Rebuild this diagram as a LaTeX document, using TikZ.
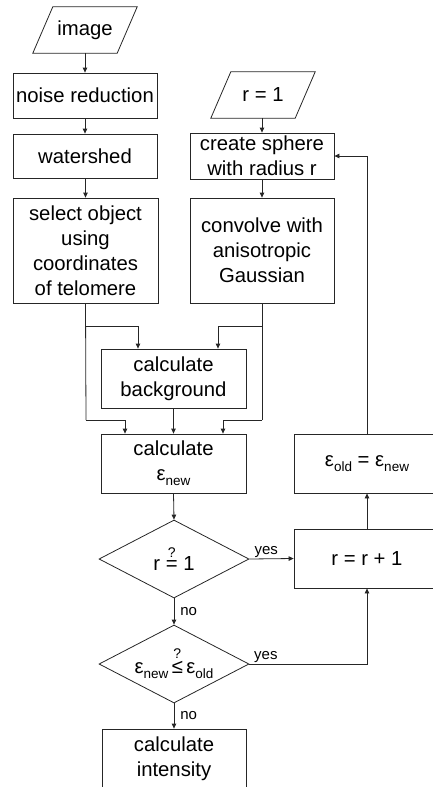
\documentclass[tikz,border=0pt]{standalone}
\usepackage{fontspec}
\setmainfont{Liberation Sans}
\usetikzlibrary{arrows.meta,shapes.geometric}
\newcommand{\epsub}[1]{ε\raisebox{-5pt}{\fontsize{13.5}{14}\selectfont #1}}
\newcommand{\qrel}[1]{\vbox{\offinterlineskip\halign{\hfil##\hfil\cr{\fontsize{14}{14}\selectfont ?}\cr\noalign{\kern2.5pt}#1\cr}}}
\begin{document}
\begin{tikzpicture}[x=1pt,y=-1pt,
  box/.style={draw=black!85, line width=0.8pt, rectangle, inner sep=0pt, align=center, font=\fontsize{20.3}{25}\selectfont},
  plain/.style={rectangle, inner sep=0pt, align=center, font=\fontsize{20.3}{25}\selectfont},
  dia/.style={draw=black!85, line width=0.8pt, diamond, aspect=2, inner sep=0pt, minimum width=150pt, minimum height=78pt, font=\fontsize{20.3}{25}\selectfont},
  arr/.style={-{Triangle[length=5pt,width=4.5pt]}, line width=0.8pt, draw=black!85},
  ln/.style={line width=0.8pt, draw=black!85},
  lbl/.style={font=\fontsize{15}{15}\selectfont, inner sep=1pt}]
\useasboundingbox (0,0) rectangle (433,787);
\clip (0,0) rectangle (433,787);

% left column
\node[plain, minimum width=84pt, minimum height=46pt] (img) at (85,30) {image};
\draw[ln] ([xshift=10pt]img.north west) -- ([xshift=10pt]img.north east) -- ([xshift=-10pt]img.south east) -- ([xshift=-10pt]img.south west) -- cycle;
\node[box, minimum width=144pt, minimum height=45pt] (nr) at (85,95.5) {noise reduction};
\node[box, minimum width=144pt, minimum height=44pt] (ws) at (85,156) {watershed};
\node[box, minimum width=145pt, minimum height=105pt] (sel) at (85.5,250.5) {select object\\using\\coordinates\\of telomere};

% right column
\node[plain, minimum width=84pt, minimum height=46pt] (r1) at (263,95) {r = 1};
\draw[ln] ([xshift=10pt]r1.north west) -- ([xshift=10pt]r1.north east) -- ([xshift=-10pt]r1.south east) -- ([xshift=-10pt]r1.south west) -- cycle;
\node[box, minimum width=144pt, minimum height=46pt] (cs) at (262,156) {create sphere\\with radius r};
\node[box, minimum width=144pt, minimum height=105pt] (conv) at (262,250.5) {convolve with\\anisotropic\\Gaussian};

% middle
\node[box, minimum width=145pt, minimum height=59pt] (bg) at (173.5,378.5) {calculate\\background};
\node[box, minimum width=145pt, minimum height=59pt] (en) at (173.5,463.5) {calculate\\\epsub{new}};
\node[dia] (d1) at (174,559) {r \qrel{=} 1};
\node[dia] (d2) at (174,664) {\epsub{new}\,\qrel{≤}\,\epsub{old}};
\node[box, minimum width=144pt, minimum height=60pt] (ci) at (174,759) {calculate\\intensity};

% far right
\node[box, minimum width=146pt, minimum height=59pt] (rr) at (367,558.5) {r = r + 1};
\node[box, minimum width=146pt, minimum height=59pt] (eo) at (367,463.5) {\epsub{old} = \epsub{new}};

% junction coordinates
\coordinate (jl1) at (86,326);
\coordinate (jl2) at (86,420);
\coordinate (jr1) at (262,326);
\coordinate (jr2) at (262,420);

% connectors
\draw[arr] (img.south) -- (nr.north);
\draw[arr] (nr.south) -- (ws.north);
\draw[arr] ([xshift=0.5pt]ws.south) -- ([xshift=0pt]sel.north);
\draw[arr] ([xshift=-1pt]r1.south) -- (cs.north);
\draw[arr] (cs.south) -- (conv.north);

\draw[ln] (sel.south) -- (jl2);
\draw[arr] (jl1) -| ([xshift=-35.5pt]bg.north);
\draw[arr] (jl2) -| ([xshift=-48.5pt]en.north);
\draw[ln] (conv.south) -- (jr2);
\draw[arr] (jr1) -| ([xshift=44.5pt]bg.north);
\draw[arr] (jr2) -| ([xshift=49.5pt]en.north);
\draw[arr] (bg.south) -- (en.north);

\draw[arr] (en.south) -- (d1.north);
\draw[arr] (d1.east) -- node[lbl, above, pos=0.38]{yes} (rr.west);
\draw[arr] (d1.south) -- node[lbl, right=5pt, pos=0.5]{no} (d2.north);
\draw[arr] (d2.east) -- node[lbl, above, pos=0.14]{yes} (d2.east -| rr.south) -- (rr.south);
\draw[arr] (d2.south) -- node[lbl, right=5pt, pos=0.5]{no} (ci.north);
\draw[arr] (rr.north) -- (eo.south);
\draw[arr] (eo.north) |- (cs.east);
\end{tikzpicture}
\end{document}
